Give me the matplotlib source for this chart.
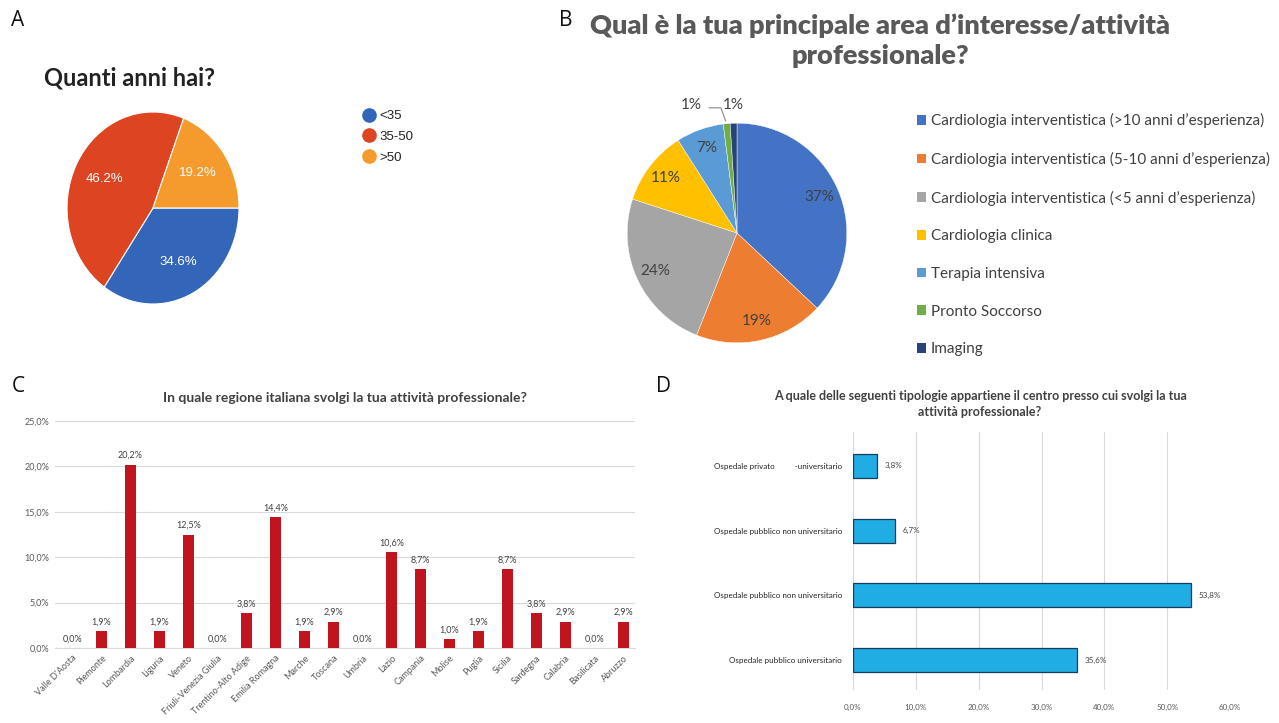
import matplotlib.pyplot as plt
import numpy as np
from matplotlib.patches import Patch
from matplotlib.lines import Line2D
from matplotlib.ticker import FuncFormatter

W, H = 1279, 723

# ---- data
age_labels = ["<35", "35-50", ">50"]
age_values = [34.6, 46.2, 19.2]
age_colors = ["#3366b8", "#dc4422", "#f59a2c"]

area_labels = ["Cardiologia interventistica (>10 anni d\u2019esperienza)",
               "Cardiologia interventistica (5-10 anni d\u2019esperienza)",
               "Cardiologia interventistica (<5 anni d\u2019esperienza)",
               "Cardiologia clinica",
               "Terapia intensiva",
               "Pronto Soccorso",
               "Imaging"]
area_values = [37, 19, 24, 11, 7, 1, 1]
area_colors = ["#4472c4", "#ed7d31", "#a5a5a5", "#ffc000", "#5b9bd5", "#70ad47", "#264478"]

regions = ["Valle D'Aosta", "Piemonte", "Lombardia", "Liguria", "Veneto",
           "Friuli-Venezia Giulia", "Trentino-Alto Adige", "Emilia Romagna",
           "Marche", "Toscana", "Umbria", "Lazio", "Campania", "Molise",
           "Puglia", "Sicilia", "Sardegna", "Calabria", "Basilicata", "Abruzzo"]
region_pct = [0.0, 1.9, 20.2, 1.9, 12.5, 0.0, 3.8, 14.4, 1.9, 2.9,
              0.0, 10.6, 8.7, 1.0, 1.9, 8.7, 3.8, 2.9, 0.0, 2.9]

centre_types = ["Ospedale privato          -universitario",
                "Ospedale pubblico non universitario",
                "Ospedale pubblico non universitario",
                "Ospedale pubblico universitario"]
centre_pct = [3.8, 6.7, 53.8, 35.6]


def box(x0, y0, x1, y1):
    return [x0 / W, 1 - y1 / H, (x1 - x0) / W, (y1 - y0) / H]


def comma(v, pos=None):
    return f"{v:.1f}%".replace(".", ",")


fig = plt.figure(figsize=(W / 100, H / 100), dpi=100)
fig.patch.set_facecolor("white")

excel = ["Lato", "DejaVu Sans"]
grey = "#404040"

# panel letters
for lx, ly, letter in [(18, 20, "A"), (566, 20, "B"), (18, 386, "C"), (664, 386, "D")]:
    fig.text(lx / W, 1 - ly / H, letter, fontsize=15, family="Open Sans",
             ha="center", va="center", color="#111111")

# ---- A
fig.text(44 / W, 1 - 78 / H, "Quanti anni hai?", fontsize=17, fontweight="bold",
         family=excel, color="#222222", ha="left", va="center")
axA = fig.add_axes(box(67, 112, 239, 304))
wedges, _, pcts = axA.pie(age_values, colors=age_colors, startangle=0, counterclock=False,
                          autopct="%.1f%%", pctdistance=0.64,
                          wedgeprops=dict(edgecolor="white", linewidth=0.8))
for t in pcts:
    t.set_color("white")
    t.set_fontsize(9.5)
    t.set_family("Liberation Sans")
axA.set_aspect("auto")
axA.set_xlim(-1, 1)
axA.set_ylim(-1, 1)
handlesA = [Line2D([], [], marker="o", linestyle="none", markersize=9.5,
                   markerfacecolor=c, markeredgecolor=c) for c in age_colors]
fig.legend(handlesA, age_labels, loc="upper left", bbox_to_anchor=(364 / W, 1 - 110 / H),
           frameon=False, handlelength=0.8, handletextpad=0.35, labelspacing=0.65,
           prop={"family": "Liberation Sans", "size": 9.5}, labelcolor="#222222",
           borderpad=0, borderaxespad=0)

# ---- B
fig.text(880 / W, 1 - 41 / H, "Qual è la tua principale area d\u2019interesse/attività\nprofessionale?",
         fontsize=19.5, fontweight="heavy", family=excel, color="#595959",
         ha="center", va="center", linespacing=1.3)
axB = fig.add_axes(box(625, 121, 849, 345))
wB, _, pB = axB.pie(area_values, colors=area_colors, startangle=90, counterclock=False,
                    autopct="%d%%", pctdistance=0.82,
                    wedgeprops=dict(edgecolor="white", linewidth=0.3))
for t in pB:
    t.set_color(grey)
    t.set_fontsize(11)
    t.set_family(excel)
pB[5].set_position((-0.42, 1.17))
pB[6].set_position((-0.03, 1.17))
mid = np.deg2rad((wB[5].theta1 + wB[5].theta2) / 2)
axB.annotate("", xy=(np.cos(mid), np.sin(mid)), xytext=(-0.28, 1.14),
             arrowprops=dict(arrowstyle="-", color="#888888", lw=0.8,
                             connectionstyle="angle,angleA=0,angleB=-70,rad=0"))
axB.set_xlim(-1.02, 1.02)
axB.set_ylim(-1.02, 1.02)
handlesB = [Patch(facecolor=c, edgecolor="none") for c in area_colors]
fig.legend(handlesB, area_labels, loc="upper left", bbox_to_anchor=(917 / W, 1 - 113 / H),
           frameon=False, handlelength=0.6, handleheight=0.6, handletextpad=0.3,
           labelspacing=1.55, prop={"family": excel, "size": 11}, labelcolor=grey,
           borderpad=0, borderaxespad=0)

# ---- C
axC = fig.add_axes(box(55, 421, 635, 648))
xC = np.arange(len(regions))
axC.bar(xC, region_pct, width=0.36, color="#c0141e", zorder=3)
for xi, v in zip(xC, region_pct):
    axC.text(xi, v + 0.5, comma(v), ha="center", va="bottom", fontsize=6.5,
             family=excel, color=grey)
axC.set_ylim(0, 25)
axC.set_xlim(-0.6, 19.4)
axC.set_yticks(np.arange(0, 26, 5))
axC.yaxis.set_major_formatter(FuncFormatter(comma))
axC.set_xticks(xC)
axC.set_xticklabels(regions, rotation=45, ha="right", rotation_mode="anchor")
axC.tick_params(length=0, labelsize=6.5, labelcolor="#595959", pad=4)
for t in axC.get_xticklabels() + axC.get_yticklabels():
    t.set_family(excel)
axC.grid(axis="y", color="#d9d9d9", linewidth=0.8, zorder=0)
for s in ["top", "right", "left"]:
    axC.spines[s].set_visible(False)
axC.spines["bottom"].set_color("#d9d9d9")
axC.set_title("In quale regione italiana svolgi la tua attività professionale?",
              fontsize=10, fontweight="bold", family=excel, color=grey, pad=14)

# ---- D
axD = fig.add_axes(box(853, 432, 1230, 690))
yD = np.arange(len(centre_types))[::-1]
axD.barh(yD, centre_pct, height=0.37, color="#1fade4", edgecolor="#163e5c",
         linewidth=0.9, zorder=3)
for yi, v in zip(yD, centre_pct):
    axD.text(v + 1.2, yi, comma(v), ha="left", va="center", fontsize=5.8,
             family=excel, color=grey)
axD.set_xlim(0, 60)
axD.set_ylim(-0.46, 3.52)
axD.set_xticks(np.arange(0, 61, 10))
axD.xaxis.set_major_formatter(FuncFormatter(comma))
axD.set_yticks(yD)
axD.set_yticklabels(centre_types)
axD.tick_params(length=0, labelsize=5.8, labelcolor="#222222", pad=8)
axD.tick_params(axis="x", labelcolor="#595959", pad=10)
for t in axD.get_xticklabels() + axD.get_yticklabels():
    t.set_family(excel)
axD.grid(axis="x", color="#d9d9d9", linewidth=0.8, zorder=0)
for s in axD.spines.values():
    s.set_visible(False)
fig.text(980 / W, 1 - 404 / H,
         "A quale delle seguenti tipologie appartiene il centro presso cui svolgi la tua\nattività professionale?",
         fontsize=9, fontweight="bold", family=excel, color=grey,
         ha="center", va="center", linespacing=1.3)

fig.savefig("out.png", dpi=100)
